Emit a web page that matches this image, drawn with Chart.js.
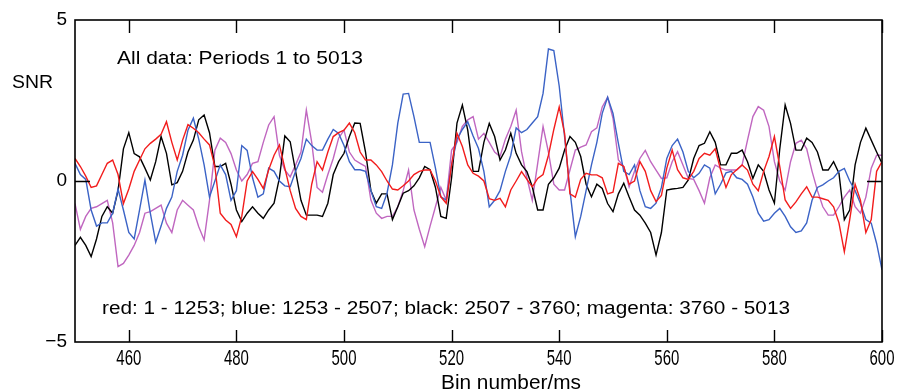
<!DOCTYPE html>
<html>
<head>
<meta charset="utf-8">
<script src="https://cdn.jsdelivr.net/npm/chart.js@4.4.1/dist/chart.umd.min.js"></script>
<style>
  html, body { margin: 0; padding: 0; background: #fff; }
  canvas { display: block; }
</style>
</head>
<body>
<canvas id="snrChart" width="899" height="390"></canvas>
<script>
// ---- Data (one value per 1 ms bin) ----
const firstBin = 450;
const bins = Array.from({ length: 151 }, (_, i) => firstBin + i);

const redSnr = [
  0.7, 0.45, 0.15, -0.2, -0.15, 0.2, 0.55, 0.65, 0.2, -0.7,
  -0.25, 0.3, 0.65, 1.0, 1.17, 1.3, 1.45, 1.84, 1.2, 0.65,
  1.27, 1.75, 1.64, 1.5, 1.3, 1.12, 0.45, -1.0, -1.21, -1.35,
  -1.73, -1.1, 0.0, 0.29, 0.05, -0.23, 0.35, 0.8, 1.12, 0.4,
  -0.3, -0.85, -1.1, -1.2, -0.1, 0.6, 0.34, 0.9, 1.38, 1.5,
  1.58, 1.8, 1.5, 0.9, 0.65, 0.65, 0.5, 0.29, 0.0, -0.25,
  -0.28, -0.15, 0.0, 0.2, 0.3, 0.34, 0.34, 0.0, -0.49, -0.69,
  0.5, 1.48, 1.07, 0.5, 0.24, 0.15, 0.0, -0.55, -0.6, -0.54,
  -0.8, -0.28, 0.0, 0.29, 0.05, -0.18, 0.08, 0.2, 0.8, 1.6,
  2.3, 1.48, -0.4, -0.5, 0.05, 0.24, 0.19, 0.19, 0.1, -0.4,
  -0.35, 0.55, 0.45, -0.1, 0.0, 0.6, 0.3, -0.3, -0.64, -0.45,
  0.4, 0.96, 0.35, 0.1, 0.05, 0.3, 0.7, 0.86, 0.8, 1.0,
  0.35, -0.2, 0.2, 0.35, 0.5, 0.34, -0.1, -0.3, 0.3, 0.76,
  1.38, 0.45, -0.59, -0.85, -0.65, -0.4, -0.18, -0.5, -0.5, -0.55,
  -0.6, -0.8, -1.3, -2.2, -1.2, -0.1, -0.6, -1.6, -1.2, 0.3,
  0.6
];

const blueSnr = [
  0.55, 0.2, 0.05, -0.9, -1.4, -1.3, -1.3, -1.0, -0.25, -0.9,
  -1.6, -1.8, -0.9, 0.03, -1.0, -1.9, -1.4, -0.85, -0.5, 0.3,
  0.8, 1.58, 1.95, 1.3, 0.5, -0.5, 0.0, 0.5, 0.2, -0.6,
  -0.3, 1.1, 0.95, 0.1, -0.5, -0.4, 0.4, 0.3, 0.0, -0.15,
  -0.18, 0.3, 0.7, 1.3, 1.1, 0.96, 0.96, 1.3, 1.6, 1.48,
  1.1, 0.6, 0.35, 0.35, 0.3, -0.3, -0.8, -0.85, -0.38, 0.5,
  1.8, 2.7, 2.72, 2.0, 1.2, 1.2, 1.2, 0.4, -0.49, -0.59,
  0.5, 1.3, 1.6, 1.84, 1.4, 1.01, 0.3, -0.8, -0.6, -0.3,
  0.3, 0.8, 1.65, 1.5, 1.6, 1.8, 2.0, 2.72, 4.1, 4.05,
  2.95, 1.38, -0.3, -1.73, -1.1, -0.3, 0.5, 1.2, 2.1, 2.6,
  2.1, 1.17, 0.3, 0.2, 0.5, -0.3, -0.8, -0.85, -0.69, -0.2,
  0.7, 1.1, 1.3, 0.9, 0.3, 0.1, 0.24, 0.5, 0.4, -0.4,
  -0.1, 0.25, 0.3, 0.1, 0.05, -0.1, -0.5, -1.0, -1.25, -1.2,
  -1.0, -0.85, -1.1, -1.42, -1.6, -1.55, -1.3, -0.6, -0.2, -0.12,
  0.0, 0.1, 0.3, 0.39, 0.0, -0.3, -0.7, -1.2, -1.31, -1.94,
  -2.76
];

const blackSnr = [
  -2.0, -1.75, -2.0, -2.35, -1.8, -1.1, -0.8, -1.0, -0.3, 1.0,
  1.5, 0.85, 0.75, 0.4, 0.03, 0.6, 1.38, 0.86, -0.12, -0.05,
  0.3, 0.9, 1.27, 1.9, 2.05, 1.5, 0.45, 0.45, 0.55, -0.1,
  -0.9, -1.26, -1.0, -0.8, -1.0, -1.16, -0.9, -0.69, 0.1, 1.4,
  1.22, 0.3, -0.6, -1.06, -1.06, -1.06, -1.1, -0.69, 0.2, 0.6,
  0.86, 1.38, 1.8, 1.79, 0.9, -0.3, -0.69, -0.4, -0.4, -1.2,
  -0.8, -0.38, -0.3, -0.15, 0.1, 0.45, 0.35, -0.2, -1.1, -1.16,
  0.1, 1.8, 2.36, 1.58, 0.3, 0.3, 1.2, 1.79, 1.38, 0.65,
  0.96, 1.48, 0.86, 0.5, 0.29, -0.18, -0.9, -0.9, -0.1, 0.1,
  0.4, 0.96, 1.38, 1.2, 0.76, -0.1, -0.49, -0.1, -0.23, -0.7,
  -0.95, -0.4, -0.07, -0.5, -0.9, -1.06, -1.31, -1.6, -2.3, -1.6,
  -0.28, -0.25, -0.23, -0.2, 0.03, 0.7, 1.1, 1.17, 1.53, 1.2,
  0.5, 0.5, 0.86, 0.86, 0.96, 0.6, 0.08, 0.5, 0.3, -0.28,
  -0.69, 1.0, 2.36, 1.79, 0.96, 0.96, 1.33, 1.2, 0.9, 0.34,
  0.34, 0.6, 0.24, -1.2, -0.9, 0.5, 1.2, 1.64, 1.27, 0.9,
  0.55
];

const magentaSnr = [
  -0.7, -1.5, -1.1, -0.85, -0.8, -0.7, -0.6, -1.3, -2.66, -2.56,
  -2.3, -2.0, -1.6, -1.0, -0.95, -0.85, -0.75, -1.31, -1.6, -0.9,
  -0.6, -0.75, -0.9, -1.42, -1.83, -0.6, 0.96, 1.33, 1.2, 0.85,
  0.34, 0.0, 0.2, 0.55, 0.6, 1.2, 1.74, 2.0, 0.8, 0.34,
  0.13, 0.5, 0.9, 2.2, 1.2, -0.2, -0.35, 0.2, 0.7, 1.33,
  1.58, 0.9, 0.65, 0.55, 0.45, -0.59, -1.0, -1.16, -1.1, -1.1,
  -0.8, -0.3, 0.34, -0.9, -1.5, -2.04, -1.4, -0.8, -0.2, -0.59,
  0.96, 1.2, 1.7, 1.9, 2.0, 1.3, 1.48, 1.2, 0.9, 0.76,
  1.3, 1.69, 2.2, 0.91, 0.1, -0.6, 0.55, 1.69, 0.9, -0.1,
  -0.28, -0.28, 0.34, 0.96, 1.05, 1.12, 1.53, 1.65, 2.3, 2.6,
  1.95, 0.65, 0.45, -0.18, 0.3, 0.7, 0.95, 0.6, 0.34, 0.08,
  0.1, 0.6, 0.91, 0.5, 0.08, 0.05, -0.3, -0.69, 0.1, 0.5,
  0.4, 0.34, 0.34, 0.34, 0.5, 1.27, 2.0, 2.31, 2.2, 1.69,
  0.6, 0.0, -0.28, 0.6, 1.17, 1.27, 1.0, 0.3, -0.3, -0.8,
  -1.06, -1.06, -0.8, -0.5, -0.28, -0.8, -1.0, -0.5, 0.4, 0.8,
  0.8
];

const xTickValues = [460, 480, 500, 520, 540, 560, 580, 600];
const yTickValues = [-5, 0, 5];
const yZeroTick = [0];

const headline = 'All data: Periods 1 to 5013';
const rangeNote = 'red: 1 - 1253; blue: 1253 - 2507; black: 2507 - 3760; magenta: 3760 - 5013';

// ---- Helpers ----
const toPoints = (values) => values.map((v, i) => ({ x: bins[i], y: v }));

// draw text squeezed/stretched to a given width (the original uses a condensed face)
const fitText = (ctx, text, x, y, width, align) => {
    const natural = ctx.measureText(text).width;
    const sx = width ? width / natural : 1;
    const drawn = natural * sx;
    let left = x;
    if (align === 'center') left = x - drawn / 2;
    if (align === 'right') left = x - drawn;
    ctx.save();
    ctx.translate(left, y);
    ctx.scale(sx, 1);
    ctx.textAlign = 'left';
    ctx.fillText(text, 0, 0);
    ctx.restore();
};

// frame, inward ticks and all the text
const framePlugin = {
    id: 'matlabFrame',
    afterDraw(chart) {
        const { ctx, chartArea: a, scales } = chart;
        const xs = scales.x, ys = scales.y;
        ctx.save();
        ctx.strokeStyle = '#000';
        ctx.fillStyle = '#000';
        ctx.lineWidth = 1.6;
        ctx.strokeRect(a.left, a.top, a.right - a.left, a.bottom - a.top);

        ctx.lineWidth = 1.4;
        ctx.beginPath();
        xTickValues.forEach(v => {
            const px = Math.round(xs.getPixelForValue(v)) + 0.5;
            ctx.moveTo(px, a.bottom); ctx.lineTo(px, a.bottom - 12);
            ctx.moveTo(px, a.top); ctx.lineTo(px, a.top + 13);
        });
        yZeroTick.forEach(v => {
            const py = Math.round(ys.getPixelForValue(v)) + 0.5;
            ctx.moveTo(a.left, py); ctx.lineTo(a.left + 15, py);
            ctx.moveTo(a.right, py); ctx.lineTo(a.right - 15, py);
        });
        ctx.stroke();

        // tick labels
        ctx.textBaseline = 'alphabetic';
        ctx.font = '22px "Liberation Sans", Arial, sans-serif';
        xTickValues.forEach(v => {
            fitText(ctx, String(v), xs.getPixelForValue(v), a.bottom + 23, 25, 'center');
        });
        ctx.textBaseline = 'middle';
        ctx.font = '19px "Liberation Sans", Arial, sans-serif';
        yTickValues.forEach(v => {
            const label = v < 0 ? '\u2212' + Math.abs(v) : String(v);
            fitText(ctx, label, a.left - 8, ys.getPixelForValue(v), null, 'right');
        });

        // titles and notes
        ctx.textBaseline = 'alphabetic';
        ctx.font = '19px "Liberation Sans", Arial, sans-serif';
        fitText(ctx, 'SNR', 12, 88, 41, 'left');
        fitText(ctx, headline, 117, 64, 246, 'left');
        ctx.font = '18px "Liberation Sans", Arial, sans-serif';
        fitText(ctx, rangeNote, 102, 314, 688, 'left');
        ctx.font = '21px "Liberation Sans", Arial, sans-serif';
        fitText(ctx, 'Bin number/ms', 511, 389, 140, 'center');
        ctx.restore();
    }
};

const series = [
    { label: 'red', values: redSnr, color: '#f21c1c' },
    { label: 'blue', values: blueSnr, color: '#3b63c6' },
    { label: 'black', values: blackSnr, color: '#000000' },
    { label: 'magenta', values: magentaSnr, color: '#c067c0' }
];

new Chart(document.getElementById('snrChart'), {
    type: 'line',
    data: {
        datasets: series.map(s => ({
            label: s.label,
            data: toPoints(s.values),
            borderColor: s.color,
            borderWidth: 1.4,
            pointRadius: 0,
            tension: 0,
            fill: false
        }))
    },
    options: {
        responsive: false,
        devicePixelRatio: 1,
        animation: false,
        layout: { padding: { left: 75, right: 17, top: 20, bottom: 48 } },
        plugins: { legend: { display: false }, tooltip: { enabled: false } },
        scales: {
            x: { type: 'linear', min: 450, max: 600, display: false },
            y: { type: 'linear', min: -5, max: 5, display: false }
        }
    },
    plugins: [framePlugin]
});
</script>
</body>
</html>
